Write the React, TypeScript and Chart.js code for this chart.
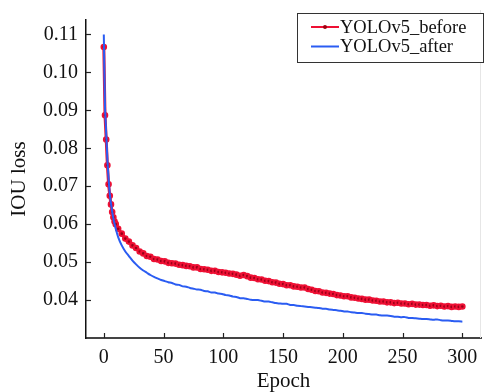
import React, { useEffect, useRef } from "react";
import { Chart, registerables } from "chart.js";

Chart.register(...registerables);

const epochs: number[] = [];
for (let e = 0; e <= 10; e++) epochs.push(e);
for (let e = 12; e <= 300; e += 3) epochs.push(e);

const beforeLoss = [
  0.1067, 0.0887, 0.0823, 0.0755, 0.0705, 0.0675, 0.0652, 0.0632, 0.0618, 0.0607, 0.06,
  0.0588, 0.0575, 0.0562, 0.0554, 0.0544, 0.0537, 0.0528, 0.0523, 0.0516, 0.0514, 0.0508,
  0.0507, 0.0503, 0.0502, 0.0498, 0.0497, 0.0496, 0.0493, 0.0492, 0.0490, 0.0489, 0.0486,
  0.0486, 0.0482, 0.0481, 0.0480, 0.0477, 0.0477, 0.0474, 0.0473, 0.0472, 0.0470, 0.0469,
  0.0467, 0.0464, 0.0466, 0.0463, 0.0459, 0.0458, 0.0455, 0.0454, 0.0451, 0.0450, 0.0447,
  0.0446, 0.0443, 0.0442, 0.0439, 0.0439, 0.0436, 0.0435, 0.0433, 0.0433, 0.0429, 0.0427,
  0.0424, 0.0423, 0.0420, 0.0419, 0.0417, 0.0416, 0.0413, 0.0412, 0.0410, 0.0410, 0.0407,
  0.0406, 0.0404, 0.0403, 0.0401, 0.0401, 0.0399, 0.0398, 0.0396, 0.0396, 0.0394, 0.0394,
  0.0392, 0.0393, 0.0391, 0.0391, 0.0389, 0.0390, 0.0388, 0.0388, 0.0387, 0.0387, 0.0385,
  0.0386, 0.0384, 0.0385, 0.0383, 0.0384, 0.0382, 0.0383, 0.0382, 0.0383,
];

const afterLoss = [
  0.11, 0.091, 0.084, 0.077, 0.072, 0.068, 0.0655, 0.0633, 0.0615, 0.0601, 0.0588,
  0.0566, 0.0544, 0.0528, 0.0516, 0.0504, 0.0494, 0.0485, 0.0478, 0.0472, 0.0466, 0.0461,
  0.0457, 0.0453, 0.0450, 0.0447, 0.0445, 0.0441, 0.0440, 0.0436, 0.0435, 0.0432, 0.0430,
  0.0428, 0.0427, 0.0424, 0.0423, 0.0420, 0.0420, 0.0417, 0.0416, 0.0413, 0.0412, 0.0409,
  0.0408, 0.0405, 0.0405, 0.0403, 0.0401, 0.0400, 0.0400, 0.0398, 0.0396, 0.0396, 0.0394,
  0.0392, 0.0391, 0.0390, 0.0390, 0.0387, 0.0387, 0.0385, 0.0384, 0.0383, 0.0382, 0.0381,
  0.0380, 0.0379, 0.0377, 0.0377, 0.0375, 0.0374, 0.0373, 0.0372, 0.0370, 0.0370, 0.0368,
  0.0367, 0.0366, 0.0366, 0.0364, 0.0363, 0.0362, 0.0362, 0.0360, 0.0359, 0.0359, 0.0358,
  0.0356, 0.0356, 0.0355, 0.0355, 0.0353, 0.0353, 0.0352, 0.0351, 0.0350, 0.0350, 0.0349,
  0.0348, 0.0349, 0.0347, 0.0346, 0.0346, 0.0345, 0.0344, 0.0344, 0.0343, 0.0344, 0.0345,
];

const xTicks = [0, 50, 100, 150, 200, 250, 300];
const yTicks = [0.04, 0.05, 0.06, 0.07, 0.08, 0.09, 0.1, 0.11];
const seriesNames = ["YOLOv5_before", "YOLOv5_after"];

const RED = "#ee1034";
const BLUE = "#2a5cf2";
const FONT = "'Liberation Serif', 'Times New Roman', serif";

const innerTicksPlugin = {
  id: "innerTicks",
  afterDraw(chart: any) {
    const { ctx, chartArea, scales } = chart;
    ctx.save();
    ctx.strokeStyle = "#222";
    ctx.lineWidth = 1.2;
    for (const v of xTicks) {
      const px = Math.round(scales.x.getPixelForValue(v)) + 0.5;
      ctx.beginPath();
      ctx.moveTo(px, chartArea.bottom);
      ctx.lineTo(px, chartArea.bottom - 5);
      ctx.stroke();
    }
    for (const v of yTicks) {
      const py = Math.round(scales.y.getPixelForValue(v)) + 0.5;
      ctx.beginPath();
      ctx.moveTo(chartArea.left, py);
      ctx.lineTo(chartArea.left + 5, py);
      ctx.stroke();
    }
    // faint right border
    ctx.strokeStyle = "#e6e6e6";
    ctx.lineWidth = 1;
    ctx.beginPath();
    ctx.moveTo(chartArea.right - 0.5, chartArea.top - 10);
    ctx.lineTo(chartArea.right - 0.5, chartArea.bottom);
    ctx.stroke();

    // legend box
    const bx = 297.5, by = 13.5, bw = 186, bh = 49;
    ctx.fillStyle = "#fff";
    ctx.fillRect(bx, by, bw, bh);
    ctx.strokeStyle = "#333";
    ctx.lineWidth = 1;
    ctx.strokeRect(bx, by, bw, bh);
    const rows = [
      { y: 27, color: RED, dot: true },
      { y: 46.5, color: BLUE, dot: false },
    ];
    ctx.font = `18.5px ${FONT}`;
    ctx.textBaseline = "middle";
    ctx.textAlign = "left";
    rows.forEach((r, i) => {
      ctx.strokeStyle = r.color;
      ctx.lineWidth = 2;
      ctx.beginPath();
      ctx.moveTo(311, r.y);
      ctx.lineTo(339, r.y);
      ctx.stroke();
      if (r.dot) {
        ctx.fillStyle = "#a00010";
        ctx.beginPath();
        ctx.arc(325, r.y, 2, 0, Math.PI * 2);
        ctx.fill();
      }
      ctx.fillStyle = "#111";
      ctx.fillText(chart.data.datasets[i].label, 340, r.y + 1);
    });
    ctx.restore();
  },
};

export default function App() {
  const ref = useRef<HTMLCanvasElement | null>(null);
  useEffect(() => {
    if (!ref.current) return;
    const chart = new Chart(ref.current, {
      type: "line",
      data: {
        datasets: [
          {
            label: seriesNames[0],
            data: epochs.map((e, i) => ({ x: e, y: beforeLoss[i] })),
            borderColor: RED,
            borderWidth: 3,
            pointRadius: 2.3,
            pointBorderWidth: 2,
            pointBorderColor: RED,
            pointBackgroundColor: "#9a0018",
            tension: 0,
            order: 1,
          },
          {
            label: seriesNames[1],
            data: epochs.map((e, i) => ({ x: e, y: afterLoss[i] })),
            borderColor: BLUE,
            borderWidth: 2,
            pointRadius: 0,
            tension: 0.2,
            order: 0,
          },
        ],
      },
      options: {
        animation: false,
        responsive: false,
        maintainAspectRatio: false,
        layout: { padding: { top: 10, right: 1, left: 0, bottom: 0 } },
        plugins: { legend: { display: false }, tooltip: { enabled: false } },
        scales: {
          x: {
            type: "linear",
            min: -14.9,
            max: 315.6,
            afterBuildTicks: (s: any) => {
              s.ticks = xTicks.map((v) => ({ value: v }));
            },
            afterFit: (s: any) => {
              s.height = 54;
            },
            grid: { display: true, drawOnChartArea: false, drawTicks: false },
            border: { display: true, color: "#444", width: 2 },
            ticks: {
              color: "#111",
              font: { family: FONT, size: 20 },
              padding: 8,
              maxRotation: 0,
              autoSkip: false,
            },
            title: {
              display: true,
              text: "Epoch",
              color: "#111",
              font: { family: FONT, size: 21 },
              padding: { top: 0, bottom: -2 },
            },
          },
          y: {
            type: "linear",
            min: 0.03,
            max: 0.1138,
            afterBuildTicks: (s: any) => {
              s.ticks = yTicks.map((v) => ({ value: v }));
            },
            afterFit: (s: any) => {
              s.width = 86;
            },
            grid: { display: true, drawOnChartArea: false, drawTicks: false },
            border: { display: true, color: "#111", width: 1.5 },
            ticks: {
              color: "#111",
              font: { family: FONT, size: 20 },
              padding: 8,
              callback: (v: any) => Number(v).toFixed(2),
            },
            title: {
              display: true,
              text: "IOU loss",
              color: "#111",
              font: { family: FONT, size: 21 },
              padding: { top: 7, bottom: 0 },
            },
          },
        },
      },
      plugins: [innerTicksPlugin],
    });
    return () => chart.destroy();
  }, []);
  return (
    <div style={{ position: "absolute", left: 0, top: 0, width: 487, height: 392, background: "#fff" }}>
      <canvas ref={ref} width={487} height={392} style={{ width: 487, height: 392 }} />
    </div>
  );
}
